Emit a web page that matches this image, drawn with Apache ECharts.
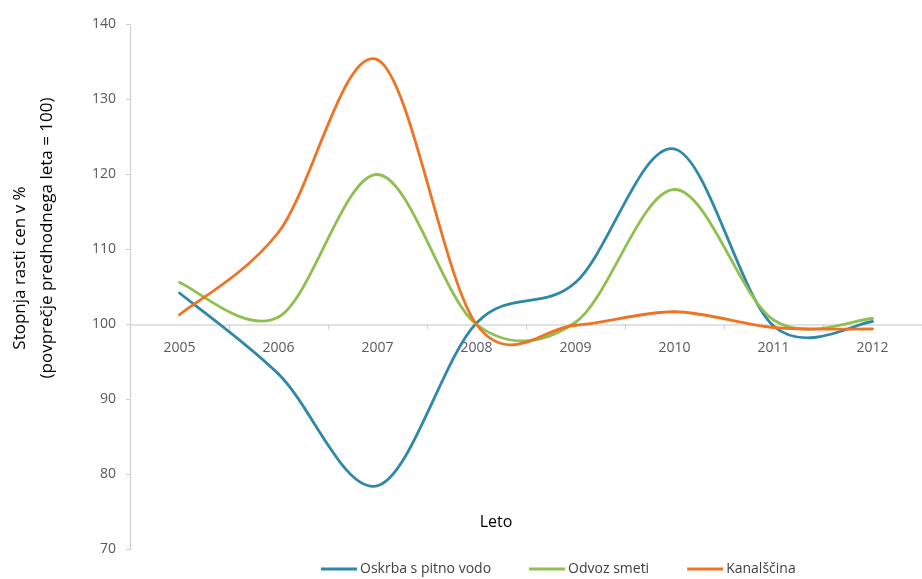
<!DOCTYPE html>
<html>
<head>
<meta charset="utf-8">
<script src="https://cdn.jsdelivr.net/npm/echarts@6/dist/echarts.min.js"></script>
<style>
  html, body { margin: 0; padding: 0; background: #ffffff; }
  #chart { width: 922px; height: 579px; }
</style>
</head>
<body>
<div id="chart"></div>
<script>
// Years on the category axis
const years = ['2005', '2006', '2007', '2008', '2009', '2010', '2011', '2012'];

// Price growth index, previous year = 100
const oskrbaVode = [104.2, 93.4, 78.5, 100.2, 105.6, 123.4, 99.8, 100.4];
const odvozSmeti = [105.6, 101.0, 120.0, 100.0, 100.3, 118.0, 100.6, 100.8];
const kanalscina = [101.3, 112.3, 135.3, 100.0, 99.9, 101.7, 99.6, 99.4];

// Y-axis range and step
const yMin = 70, yMax = 140, yStep = 10;

const seriesNames = ['Oskrba s pitno vodo', 'Odvoz smeti', 'Kanalščina'];
const seriesColors = ['#2e88a8', '#8fc04f', '#f07324'];

const FONT = '"Open Sans", "Noto Sans", sans-serif';
const chart = echarts.init(document.getElementById('chart'), null, { renderer: 'canvas' });

const gridTop = 24.5, gridHeight = 525;
// distance from the bottom of the grid up to the 100 baseline
const baseOffset = -gridHeight * (100 - yMin) / (yMax - yMin);

// Smoothed line: each item draws the cubic segment to the next year,
// with Catmull-Rom tangents taken from the neighbouring points.
function splineSeries(name, values, color) {
  const n = values.length;
  return {
    name: name,
    type: 'custom',
    coordinateSystem: 'cartesian2d',
    data: values.map((v, i) => [i, v]),
    encode: { x: 0, y: 1 },
    itemStyle: { color: color },
    renderItem: function (params, api) {
      const i = params.dataIndex;
      if (i >= n - 1) return null;
      const pt = (k) => {
        const j = Math.max(0, Math.min(n - 1, k));
        return api.coord([j, values[j]]);
      };
      const p0 = pt(i - 1), p1 = pt(i), p2 = pt(i + 1), p3 = pt(i + 2);
      return {
        type: 'bezierCurve',
        shape: {
          x1: p1[0], y1: p1[1],
          cpx1: p1[0] + (p2[0] - p0[0]) / 6,
          cpy1: p1[1] + (p2[1] - p0[1]) / 6,
          cpx2: p2[0] - (p3[0] - p1[0]) / 6,
          cpy2: p2[1] - (p3[1] - p1[1]) / 6,
          x2: p2[0], y2: p2[1]
        },
        style: { stroke: color, lineWidth: 2.8, fill: null, lineCap: 'round' }
      };
    }
  };
}

chart.setOption({
  animation: false,
  backgroundColor: '#ffffff',
  grid: { left: 130, top: gridTop, width: 800, height: gridHeight, containLabel: false },
  xAxis: {
    type: 'category',
    data: years,
    boundaryGap: true,
    position: 'bottom',
    offset: baseOffset,
    axisLine: { show: true, lineStyle: { color: '#d9d9d9', width: 1.5 } },
    axisTick: { show: true, length: 5, lineStyle: { color: '#d0d0d0', width: 1.2 } },
    axisLabel: { color: '#595959', fontFamily: FONT, fontSize: 14, margin: 17 },
    splitLine: { show: false }
  },
  yAxis: {
    type: 'value',
    min: yMin,
    max: yMax,
    interval: yStep,
    axisLine: { show: true, lineStyle: { color: '#cfcfcf', width: 1.2 } },
    axisTick: { show: true, length: 4, inside: false, lineStyle: { color: '#cfcfcf' } },
    axisLabel: { color: '#595959', fontFamily: FONT, fontSize: 14, margin: 14 },
    splitLine: { show: false }
  },
  legend: {
    top: 557,
    left: 316,
    padding: [5, 5, 5, 5],
    icon: 'rect',
    itemWidth: 36,
    itemHeight: 3,
    itemGap: 38,
    textStyle: { color: '#404040', fontFamily: FONT, fontSize: 14, padding: [0, 0, 0, -2] },
    data: seriesNames
  },
  graphic: [
    {
      type: 'text',
      x: 20, y: 268,
      rotation: Math.PI / 2,
      style: {
        text: 'Stopnja rasti cen v %',
        font: '17px ' + FONT,
        fill: '#000000',
        align: 'center',
        verticalAlign: 'middle'
      }
    },
    {
      type: 'text',
      x: 47, y: 238,
      rotation: Math.PI / 2,
      style: {
        text: '(povprečje predhodnega leta = 100)',
        font: '17px ' + FONT,
        fill: '#000000',
        align: 'center',
        verticalAlign: 'middle'
      }
    },
    {
      type: 'text',
      x: 496, y: 522,
      style: {
        text: 'Leto',
        font: '16px ' + FONT,
        fill: '#000000',
        align: 'center',
        verticalAlign: 'middle'
      }
    }
  ],
  series: [
    splineSeries(seriesNames[0], oskrbaVode, seriesColors[0]),
    splineSeries(seriesNames[1], odvozSmeti, seriesColors[1]),
    splineSeries(seriesNames[2], kanalscina, seriesColors[2])
  ]
});
</script>
</body>
</html>
